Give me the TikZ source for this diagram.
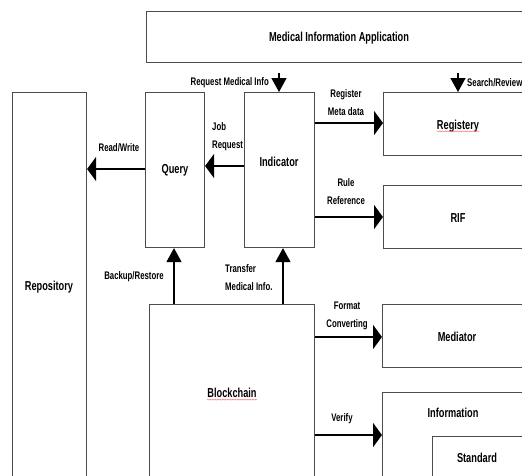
\documentclass[tikz,border=0pt]{standalone}
\usepackage{fontspec}
\setmainfont{Liberation Sans}[FakeStretch=0.71]
\usetikzlibrary{arrows.meta,decorations.pathmorphing}

\begin{document}
\begin{tikzpicture}[x=1pt,y=-1pt,
  box/.style={draw=black!70, line width=1.1pt, rectangle, anchor=north west, inner sep=0pt},
  title/.style={font=\bfseries\fontsize{13}{15}\selectfont, text=black, inner sep=0pt},
  tag/.style={font=\bfseries\fontsize{11}{18}\selectfont, text=black, align=center, inner sep=0pt},
  harrow/.style={-{Triangle[length=9pt,width=24pt]}, line width=2.1pt},
  varrow/.style={-{Triangle[length=14pt,width=15pt]}, line width=1.4pt},
  squiggle/.style={draw=red!55, line width=0.5pt, decorate,
    decoration={snake, amplitude=0.5pt, segment length=2.5pt}}
]
\useasboundingbox (0,0) rectangle (522,475);
\clip (0,0) rectangle (522,475);

% boxes
\node[box, minimum width=394pt, minimum height=51pt]  (app)  at (146,11)  {};
\node[box, minimum width=74pt,  minimum height=400pt] (repo) at (12,92)   {};
\node[box, minimum width=59pt,  minimum height=155pt] (qry)  at (145,92)  {};
\node[box, minimum width=70pt,  minimum height=155pt] (ind)  at (244,92)  {};
\node[box, minimum width=157pt, minimum height=63pt]  (reg)  at (383,92)  {};
\node[box, minimum width=157pt, minimum height=63pt]  (rif)  at (383,185) {};
\node[box, minimum width=165pt, minimum height=190pt] (bc)   at (149,304) {};
\node[box, minimum width=158pt, minimum height=63pt]  (med)  at (382,304) {};
\node[box, minimum width=158pt, minimum height=100pt] (inf)  at (382,392) {};
\node[box, minimum width=108pt, minimum height=60pt]  (std)  at (432,436) {};

% box titles
\node[title] (appT)  at (339,38)  {Medical Information Application};
\node[title] (repoT) at (49,287)  {Repository};
\node[title] (qryT)  at (175,170) {Query};
\node[title] (indT)  at (279,162) {Indicator};
\node[title] (regT)  at (458,126) {Registery};
\node[title] (rifT)  at (458,218) {RIF};
\node[title] (bcT)   at (232,393) {Blockchain};
\node[title] (medT)  at (457,337) {Mediator};
\node[title] (infT)  at (453,413) {Information};
\node[title] (stdT)  at (477,458) {Standard};

% spell-check marks under two words
\draw[squiggle] ([yshift=-2pt]regT.base west) -- ([yshift=-2pt]regT.base east);
\draw[squiggle] ([yshift=-2pt]bcT.base west) -- ([yshift=-2pt]bcT.base east);

% free ends of the arrows coming down from the application
\coordinate (reqS) at (279,73);
\coordinate (srcS) at (458,73);

% arrows
\draw[varrow] (reqS) -- (reqS |- ind.north);
\draw[varrow] (srcS) -- (srcS |- reg.north);
\draw[harrow] (ind.east |- 0,123) -- (reg.west |- 0,123);
\draw[harrow] (ind.west |- 0,166) -- (qry.east |- 0,166);
\draw[harrow] (qry.west |- 0,169) -- (repo.east |- 0,169);
\draw[harrow] (ind.east |- 0,217) -- (rif.west |- 0,217);
\draw[varrow] (bc.north -| 174,0) -- (qry.south -| 174,0);
\draw[varrow] (bc.north -| 283,0) -- (ind.south -| 283,0);
\draw[harrow] (bc.east |- 0,337) -- (med.west |- 0,337);
\draw[harrow] (bc.east |- 0,435) -- (inf.west |- 0,435);

% arrow labels
\node[tag, anchor=east] (reqL) at (269,83) {Request Medical Info};
\node[tag, anchor=west] (srcL) at (467,83) {Search/Review};
\node[tag] (regL) at (346,102.5) {Register\\Meta data};
\node[tag, anchor=west, align=left] (jobL) at (212,137) {Job\\Request};
\node[tag] (rwL)  at (119,148) {Read/Write};
\node[tag] (rifL) at (346,191.5) {Rule\\Reference};
\node[tag] (buL)  at (134,277) {Backup/Restore};
\node[tag, anchor=west, align=left] (trL) at (225,277.5) {Transfer\\Medical Info.};
\node[tag] (fmL)  at (347,315.5) {Format\\Converting};
\node[tag] (vfL)  at (342,419) {Verify};
\end{tikzpicture}
\end{document}
